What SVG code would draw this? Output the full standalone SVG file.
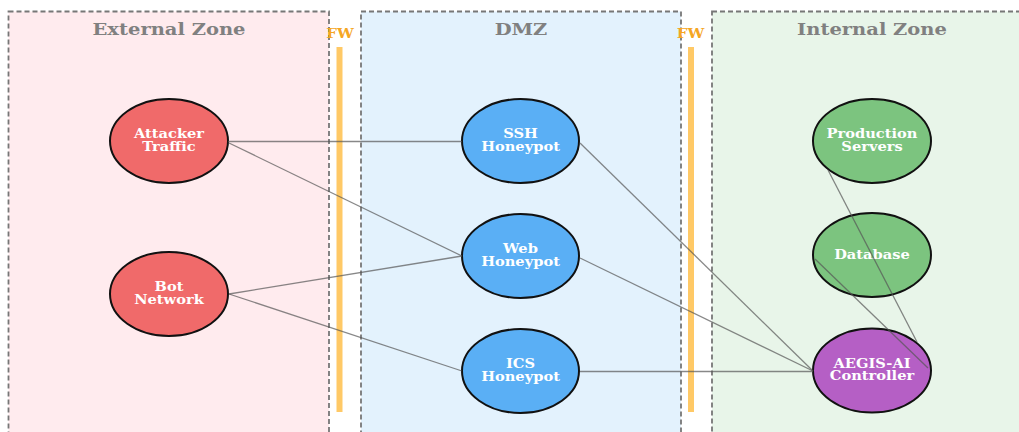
<svg xmlns="http://www.w3.org/2000/svg" width="1019" height="432" viewBox="0 0 1019 432">
  <style>
    .zone { stroke: #777777; stroke-width: 1.8; stroke-dasharray: 5 3; }
    .ztitle { font-family: "DejaVu Serif", "Liberation Serif", serif; font-weight: bold; font-size: 16px; fill: #808080; text-anchor: middle; }
    .fw { fill: #ffc966; }
    .fwlabel { font-family: "DejaVu Serif", "Liberation Serif", serif; font-weight: bold; font-size: 12px; fill: #f5a623; text-anchor: middle; }
    .edge { stroke: #555555; stroke-width: 1.3; stroke-opacity: 0.7; fill: none; }
    .node ellipse { stroke: #111111; stroke-width: 2; }
    .label { font-family: "DejaVu Serif", "Liberation Serif", serif; font-weight: bold; font-size: 12px; fill: #ffffff; text-anchor: middle; }
    .ext { fill: #f06a6a; }
    .dmz { fill: #5aaff5; }
    .int { fill: #7cc47f; }
    .ctl { fill: #b55fc5; }
  </style>

  <rect width="1019" height="432" fill="#ffffff"/>

  <!-- security zones -->
  <g id="zones">
    <rect class="zone" x="8.5" y="11.5" width="320.5" height="440" fill="#ffebee"/>
    <rect class="zone" x="361" y="11.5" width="320" height="440" fill="#e3f2fd"/>
    <rect class="zone" x="712" y="11.5" width="330" height="440" fill="#e8f5e9"/>
    <g transform="translate(169 35) scale(1.22 1)"><text class="ztitle" x="0" y="0">External Zone</text></g>
    <g transform="translate(521 35) scale(1.22 1)"><text class="ztitle" x="0" y="0">DMZ</text></g>
    <g transform="translate(872 35) scale(1.22 1)"><text class="ztitle" x="0" y="0">Internal Zone</text></g>
  </g>

  <!-- firewalls between zones -->
  <g id="firewalls">
    <rect class="fw" x="336.5" y="47" width="6" height="365"/>
    <g transform="translate(340 38) scale(1.25 1)"><text class="fwlabel" x="0" y="0">FW</text></g>
    <rect class="fw" x="688" y="47" width="6" height="365"/>
    <g transform="translate(690.5 38) scale(1.25 1)"><text class="fwlabel" x="0" y="0">FW</text></g>
  </g>

  <!-- nodes -->
  <g id="attacker" class="node">
    <ellipse class="ext" cx="169" cy="141" rx="59" ry="42"/>
    <g transform="translate(169 0) scale(1.22 1)">
      <text class="label" x="0" y="138.5">Attacker</text>
      <text class="label" x="0" y="151">Traffic</text>
    </g>
  </g>
  <g id="botnet" class="node">
    <ellipse class="ext" cx="169" cy="294" rx="59" ry="42"/>
    <g transform="translate(169 0) scale(1.22 1)">
      <text class="label" x="0" y="291.5">Bot</text>
      <text class="label" x="0" y="304">Network</text>
    </g>
  </g>
  <g id="ssh" class="node">
    <ellipse class="dmz" cx="520.5" cy="141" rx="58.5" ry="42"/>
    <g transform="translate(520.5 0) scale(1.22 1)">
      <text class="label" x="0" y="138.5">SSH</text>
      <text class="label" x="0" y="151">Honeypot</text>
    </g>
  </g>
  <g id="web" class="node">
    <ellipse class="dmz" cx="520.5" cy="256" rx="58.5" ry="42"/>
    <g transform="translate(520.5 0) scale(1.22 1)">
      <text class="label" x="0" y="253.5">Web</text>
      <text class="label" x="0" y="266">Honeypot</text>
    </g>
  </g>
  <g id="ics" class="node">
    <ellipse class="dmz" cx="520.5" cy="371" rx="58.5" ry="42"/>
    <g transform="translate(520.5 0) scale(1.22 1)">
      <text class="label" x="0" y="368.5">ICS</text>
      <text class="label" x="0" y="381">Honeypot</text>
    </g>
  </g>
  <g id="production" class="node">
    <ellipse class="int" cx="872" cy="141" rx="59" ry="42"/>
    <g transform="translate(872 0) scale(1.22 1)">
      <text class="label" x="0" y="138.5">Production</text>
      <text class="label" x="0" y="151">Servers</text>
    </g>
  </g>
  <g id="database" class="node">
    <ellipse class="int" cx="872" cy="255" rx="59" ry="42"/>
    <g transform="translate(872 0) scale(1.22 1)">
      <text class="label" x="0" y="259">Database</text>
    </g>
  </g>
  <g id="controller" class="node">
    <ellipse class="ctl" cx="872" cy="370.5" rx="59" ry="42"/>
    <g transform="translate(872 0) scale(1.22 1)">
      <text class="label" x="0" y="368">AEGIS-AI</text>
      <text class="label" x="0" y="380.5">Controller</text>
    </g>
  </g>

  <!-- connectors, drawn over the nodes -->
  <g id="connectors">
    <line class="edge" x1="228" y1="141.5" x2="462" y2="141.5"/>
    <line class="edge" x1="229" y1="143" x2="462" y2="256"/>
    <line class="edge" x1="229" y1="294" x2="462" y2="256"/>
    <line class="edge" x1="229" y1="294" x2="462" y2="371"/>
    <line class="edge" x1="580" y1="143" x2="813" y2="371"/>
    <line class="edge" x1="580" y1="258" x2="813" y2="371"/>
    <line class="edge" x1="580" y1="371.5" x2="813" y2="371.5"/>
    <line class="edge" x1="828" y1="170" x2="917" y2="342"/>
    <line class="edge" x1="815" y1="259" x2="928" y2="368"/>
  </g>
</svg>
